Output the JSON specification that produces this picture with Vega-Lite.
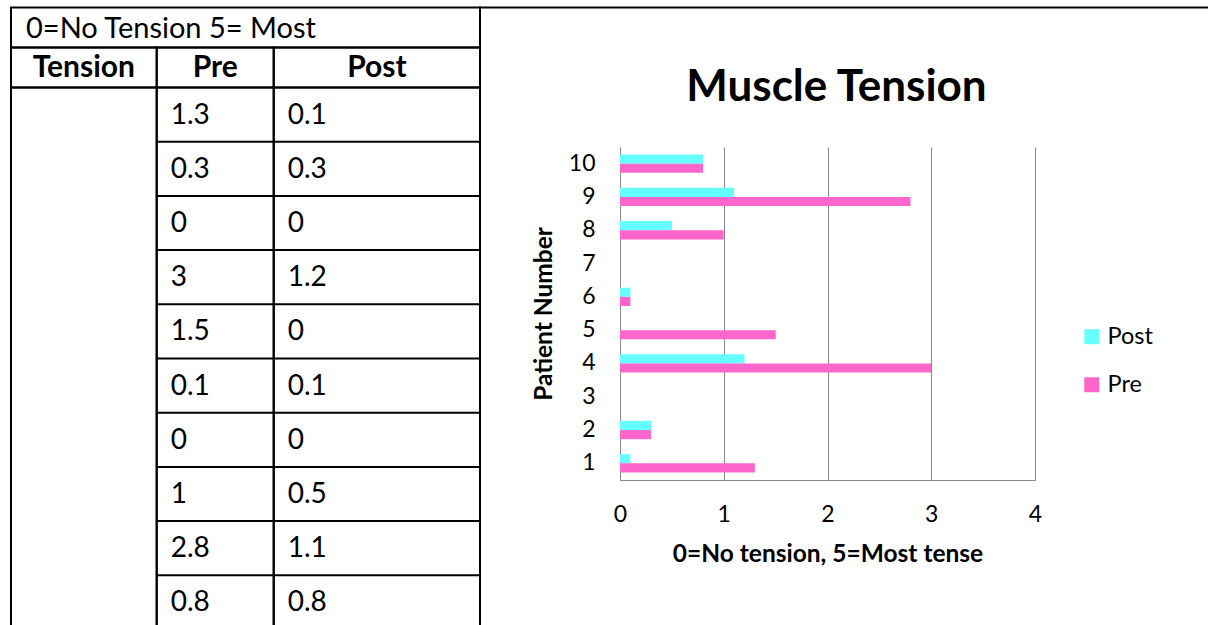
{
  "$schema": "https://vega.github.io/schema/vega-lite/v6.json",
  "autosize": {"type": "none"},
  "width": 415,
  "height": 333,
  "padding": {"left": 620, "top": 147, "right": 173, "bottom": 145},
  "background": "white",
  "config": {"font": "Lato", "view": {"stroke": null}},
  "datasets": {
    "patients": [
      {"patient": 1, "Pre": 1.3, "Post": 0.1},
      {"patient": 2, "Pre": 0.3, "Post": 0.3},
      {"patient": 3, "Pre": 0, "Post": 0},
      {"patient": 4, "Pre": 3, "Post": 1.2},
      {"patient": 5, "Pre": 1.5, "Post": 0},
      {"patient": 6, "Pre": 0.1, "Post": 0.1},
      {"patient": 7, "Pre": 0, "Post": 0},
      {"patient": 8, "Pre": 1, "Post": 0.5},
      {"patient": 9, "Pre": 2.8, "Post": 1.1},
      {"patient": 10, "Pre": 0.8, "Post": 0.8}
    ],
    "cells": [
      {"c0": 0, "c1": 3, "r0": -2, "r1": -1, "kind": "title", "label": "0=No Tension 5= Most"},
      {"c0": 0, "c1": 1, "r0": -1, "r1": 0, "kind": "head", "label": "Tension"},
      {"c0": 1, "c1": 2, "r0": -1, "r1": 0, "kind": "head", "label": "Pre"},
      {"c0": 2, "c1": 3, "r0": -1, "r1": 0, "kind": "head", "label": "Post"},
      {"c0": 0, "c1": 1, "r0": 0, "r1": 10, "kind": "body", "label": ""},
      {"c0": 1, "c1": 2, "r0": 0, "r1": 10, "kind": "body", "label": ""},
      {"c0": 2, "c1": 3, "r0": 0, "r1": 10, "kind": "body", "label": ""},
      {"c0": 3, "c1": 4, "r0": -2, "r1": 10, "kind": "frame", "label": ""}
    ]
  },
  "title": {
    "text": "Muscle Tension",
    "fontSize": 44,
    "fontWeight": "bold",
    "anchor": "middle",
    "frame": "group",
    "dx": 9,
    "baseline": "alphabetic",
    "offset": -138,
    "color": "black"
  },
  "resolve": {"scale": {"x": "independent", "y": "independent"}},
  "layer": [
    {
      "data": {"name": "patients"},
      "transform": [{"fold": ["Post", "Pre"], "as": ["series", "score"]}],
      "mark": {"type": "bar"},
      "encoding": {
        "y": {
          "field": "patient",
          "type": "ordinal",
          "sort": "descending",
          "scale": {"paddingInner": 0.45, "paddingOuter": 0.225},
          "axis": {
            "orient": "left",
            "title": "Patient Number",
            "titleFontSize": 24.5,
            "titleFontWeight": "bold",
            "titleColor": "black",
            "labelFontSize": 23,
            "labelColor": "black",
            "labelPadding": 25,
            "labelAngle": 0,
            "ticks": false,
            "domainColor": "#898989",
            "titlePadding": 12
          }
        },
        "yOffset": {"field": "series", "type": "nominal", "sort": ["Post", "Pre"]},
        "x": {
          "field": "score",
          "type": "quantitative",
          "scale": {"domain": [0, 4], "nice": false},
          "axis": {
            "orient": "bottom",
            "values": [0, 1, 2, 3, 4],
            "grid": true,
            "gridColor": "#898989",
            "domainColor": "#898989",
            "ticks": false,
            "labelFlush": false,
            "labelFontSize": 23,
            "labelColor": "black",
            "labelPadding": 23,
            "title": "0=No tension, 5=Most tense",
            "titleFontSize": 24.5,
            "titleFontWeight": "bold",
            "titleColor": "black",
            "titlePadding": 16
          }
        },
        "color": {
          "field": "series",
          "type": "nominal",
          "scale": {"domain": ["Post", "Pre"], "range": ["#66FFFF", "#FF66CC"]},
          "legend": {
            "orient": "none",
            "legendX": 460,
            "legendY": 178,
            "title": null,
            "symbolType": "square",
            "symbolSize": 225,
            "symbolStrokeWidth": 0,
            "labelFontSize": 23.5,
            "labelColor": "black",
            "rowPadding": 23,
            "labelOffset": 4
          }
        }
      }
    },
    {
      "layer": [
        {
          "data": {"name": "cells"},
          "mark": {"type": "rect", "fill": "white", "fillOpacity": 0, "stroke": "black", "strokeWidth": 2},
          "encoding": {
            "x": {"field": "c0", "type": "quantitative", "axis": null, "scale": {"type": "linear", "domain": [0, 1, 2, 3, 4], "range": [-609, -463.3, -346.3, -140, 589], "nice": false, "zero": false}},
            "x2": {"field": "c1"},
            "y": {"field": "r0", "type": "quantitative", "axis": null, "scale": {"type": "linear", "domain": [-2, -1, 0, 10], "range": [-139.5, -99.5, -59.5, 482.5], "nice": false, "zero": false}},
            "y2": {"field": "r1"}
          }
        },
        {
          "data": {"name": "patients"},
          "mark": {"type": "rule", "stroke": "black", "strokeWidth": 2},
          "encoding": {
            "x": {"datum": 1, "type": "quantitative", "axis": null, "scale": {"type": "linear", "domain": [0, 1, 2, 3, 4], "range": [-609, -463.3, -346.3, -140, 589], "nice": false, "zero": false}},
            "x2": {"datum": 3},
            "y": {"field": "patient", "type": "quantitative", "axis": null, "scale": {"type": "linear", "domain": [-2, -1, 0, 10], "range": [-139.5, -99.5, -59.5, 482.5], "nice": false, "zero": false}}
          }
        },
        {
          "data": {"name": "cells"},
          "transform": [
            {"filter": "datum.kind === 'title'"},
            {"calculate": "(datum.r0 + datum.r1) / 2", "as": "rm"}
          ],
          "mark": {"type": "text", "align": "left", "baseline": "middle", "dx": 15, "dy": 1.5, "fontSize": 29, "color": "black"},
          "encoding": {
            "x": {"field": "c0", "type": "quantitative", "axis": null, "scale": {"type": "linear", "domain": [0, 1, 2, 3, 4], "range": [-609, -463.3, -346.3, -140, 589], "nice": false, "zero": false}},
            "y": {"field": "rm", "type": "quantitative", "axis": null, "scale": {"type": "linear", "domain": [-2, -1, 0, 10], "range": [-139.5, -99.5, -59.5, 482.5], "nice": false, "zero": false}},
            "text": {"field": "label", "type": "nominal"}
          }
        },
        {
          "data": {"name": "cells"},
          "transform": [
            {"filter": "datum.kind === 'head'"},
            {"calculate": "(datum.r0 + datum.r1) / 2", "as": "rm"},
            {"calculate": "(datum.c0 + datum.c1) / 2", "as": "cm"}
          ],
          "mark": {"type": "text", "align": "center", "baseline": "middle", "fontSize": 30, "fontWeight": "bold", "color": "black"},
          "encoding": {
            "x": {"field": "cm", "type": "quantitative", "axis": null, "scale": {"type": "linear", "domain": [0, 1, 2, 3, 4], "range": [-609, -463.3, -346.3, -140, 589], "nice": false, "zero": false}},
            "y": {"field": "rm", "type": "quantitative", "axis": null, "scale": {"type": "linear", "domain": [-2, -1, 0, 10], "range": [-139.5, -99.5, -59.5, 482.5], "nice": false, "zero": false}},
            "text": {"field": "label", "type": "nominal"}
          }
        },
        {
          "data": {"name": "patients"},
          "transform": [
            {"fold": ["Pre", "Post"], "as": ["col", "val"]},
            {"calculate": "datum.col === 'Pre' ? 1 : 2", "as": "cx"},
            {"calculate": "datum.patient - 0.5", "as": "ry"}
          ],
          "mark": {"type": "text", "align": "left", "baseline": "middle", "dx": 14, "dy": 1, "fontSize": 28, "color": "black"},
          "encoding": {
            "x": {"field": "cx", "type": "quantitative", "axis": null, "scale": {"type": "linear", "domain": [0, 1, 2, 3, 4], "range": [-609, -463.3, -346.3, -140, 589], "nice": false, "zero": false}},
            "y": {"field": "ry", "type": "quantitative", "axis": null, "scale": {"type": "linear", "domain": [-2, -1, 0, 10], "range": [-139.5, -99.5, -59.5, 482.5], "nice": false, "zero": false}},
            "text": {"field": "val", "type": "nominal"}
          }
        }
      ]
    }
  ]
}
